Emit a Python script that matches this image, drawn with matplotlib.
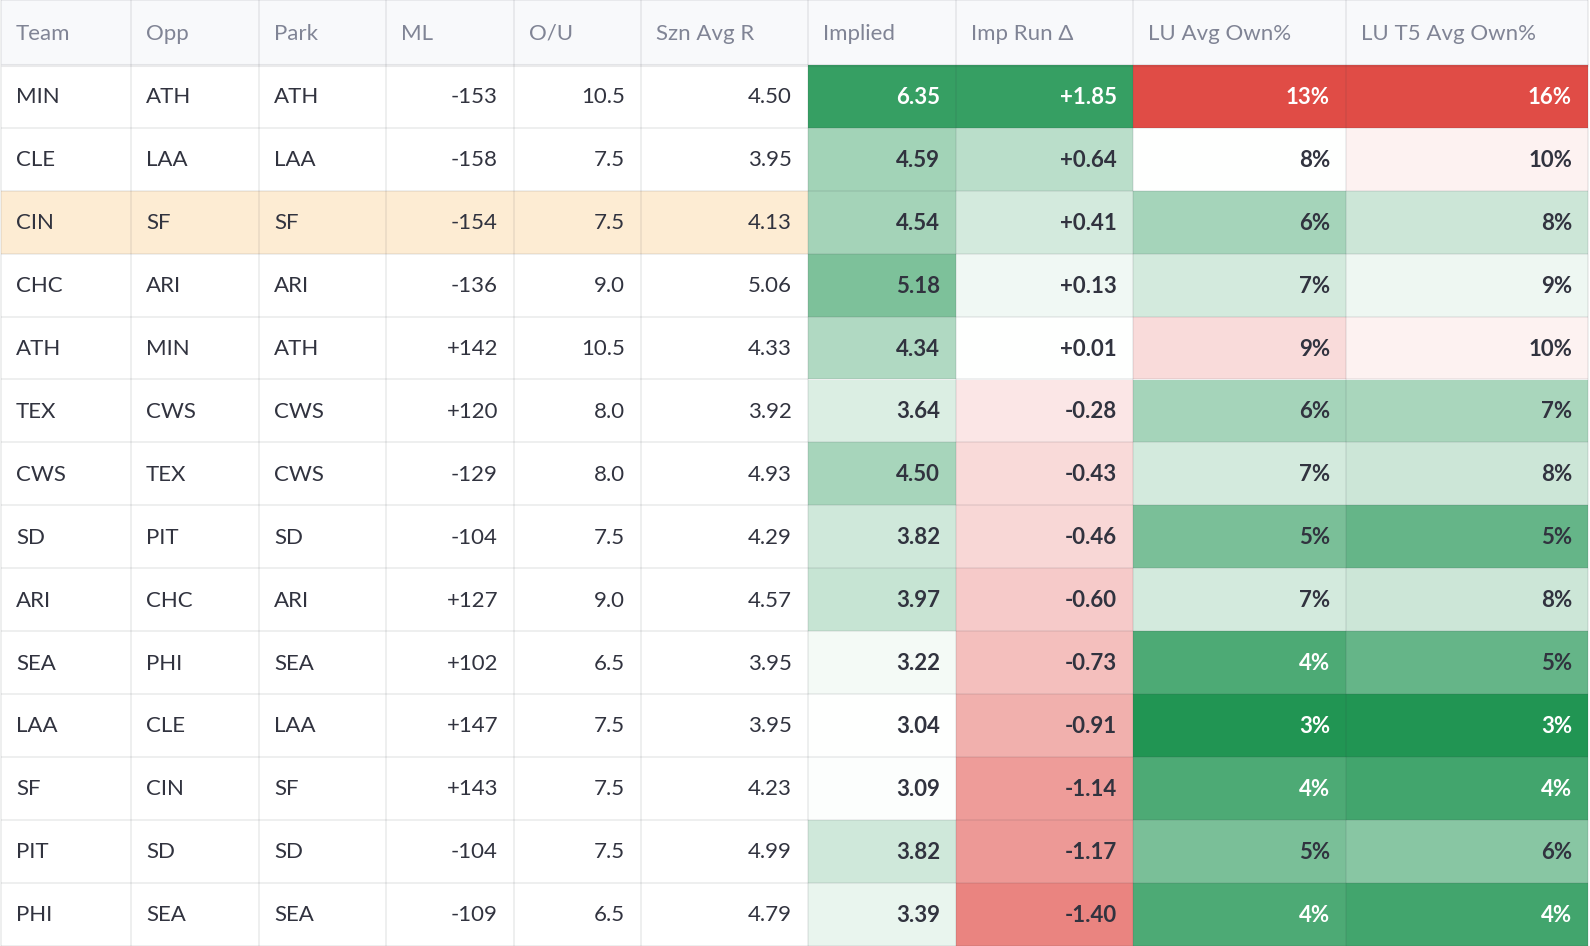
import matplotlib
matplotlib.use("Agg")
import matplotlib.pyplot as plt
import matplotlib.colors as mcolors
from matplotlib.patches import Rectangle

# ---------------- DATA ----------------
headers = ["Team", "Opp", "Park", "ML", "O/U", "Szn Avg R",
           "Implied", "Imp Run Δ", "LU Avg Own%", "LU T5 Avg Own%"]

teams = ["MIN", "CLE", "CIN", "CHC", "ATH", "TEX", "CWS",
         "SD", "ARI", "SEA", "LAA", "SF", "PIT", "PHI"]
opps = ["ATH", "LAA", "SF", "ARI", "MIN", "CWS", "TEX",
        "PIT", "CHC", "PHI", "CLE", "CIN", "SD", "SEA"]
parks = ["ATH", "LAA", "SF", "ARI", "ATH", "CWS", "CWS",
         "SD", "ARI", "SEA", "LAA", "SF", "SD", "SEA"]
ml = [-153, -158, -154, -136, 142, 120, -129, -104, 127, 102, 147, 143, -104, -109]
ou = [10.5, 7.5, 7.5, 9.0, 10.5, 8.0, 8.0, 7.5, 9.0, 6.5, 7.5, 7.5, 7.5, 6.5]
szn_avg_r = [4.50, 3.95, 4.13, 5.06, 4.33, 3.92, 4.93, 4.29, 4.57, 3.95, 3.95, 4.23, 4.99, 4.79]
implied = [6.35, 4.59, 4.54, 5.18, 4.34, 3.64, 4.50, 3.82, 3.97, 3.22, 3.04, 3.09, 3.82, 3.39]
imp_delta = [1.85, 0.64, 0.41, 0.13, 0.01, -0.28, -0.43, -0.46, -0.60, -0.73, -0.91, -1.14, -1.17, -1.40]
lu_own = [13, 8, 6, 7, 9, 6, 7, 5, 7, 4, 3, 4, 5, 4]
lu_t5_own = [16, 10, 8, 9, 10, 7, 8, 5, 8, 5, 3, 4, 6, 4]

highlight_team = "CIN"

# ---------------- STYLE ----------------
FONT = ["Lato", "DejaVu Sans"]
FS = 16
GREEN = (33 / 255, 149 / 255, 83 / 255)
RED = (224 / 255, 76 / 255, 70 / 255)
TEXT = "#31333f"
HEAD_TEXT = "#808495"
HEAD_BG = "#f8f9fb"
HL_BG = "#fdecd3"
GRID = (49 / 255, 51 / 255, 63 / 255, 0.1)

col_w = [130, 128, 127, 128, 127, 167, 148, 177, 213, 242]
head_h = 65
row_h = 62.9
x0 = 1
pad = 15

cmap = mcolors.LinearSegmentedColormap.from_list("rwg", [RED, "white", GREEN])


# value -> position on the red/white/green scale (0.5 = white)
def scale_implied(v):
    return 0.5 + 0.45 * (v - min(implied)) / (max(implied) - min(implied))


def scale_delta(v):
    m = max(abs(d) for d in imp_delta)
    return 0.5 + 0.45 * v / m


def scale_own(vals):
    lo, hi = min(vals), max(vals)
    mid = (lo + hi) / 2
    half = (hi - lo) / 2
    return lambda v: 0.5 + 0.5 * (mid - v) / half


columns = [
    (teams, str, "left", None),
    (opps, str, "left", None),
    (parks, str, "left", None),
    (ml, lambda v: f"{v:+d}", "right", None),
    (ou, lambda v: f"{v:.1f}", "right", None),
    (szn_avg_r, lambda v: f"{v:.2f}", "right", None),
    (implied, lambda v: f"{v:.2f}", "right", scale_implied),
    (imp_delta, lambda v: f"{v:+.2f}", "right", scale_delta),
    (lu_own, lambda v: f"{v}%", "right", scale_own(lu_own)),
    (lu_t5_own, lambda v: f"{v}%", "right", scale_own(lu_t5_own)),
]

# ---------------- FIGURE ----------------
fig = plt.figure(figsize=(15.9, 9.46), dpi=100)
ax = fig.add_axes([0, 0, 1, 1])
ax.set_xlim(0, 1590)
ax.set_ylim(946, 0)
ax.axis("off")

edges = [x0]
for w in col_w:
    edges.append(edges[-1] + w)
n_rows = len(teams)
bottom = head_h + n_rows * row_h

# header
ax.add_patch(Rectangle((x0, 0), edges[-1] - x0, head_h, color=HEAD_BG, lw=0))
for j, h in enumerate(headers):
    ax.text(edges[j] + pad, head_h / 2 + 1, h, ha="left", va="center",
            fontsize=FS, color=HEAD_TEXT, family=FONT)

# body
hl_row = teams.index(highlight_team)
for j, (vals, fmt, align, scaler) in enumerate(columns):
    for i, v in enumerate(vals):
        y = head_h + i * row_h
        txt_color = TEXT
        weight = "normal"
        if scaler is not None:
            s = scaler(v)
            ax.add_patch(Rectangle((edges[j], y), col_w[j], row_h,
                                   color=cmap(s), lw=0))
            weight = "bold"
            if abs(s - 0.5) * 2 > 0.75:
                txt_color = "white"
        elif i == hl_row:
            ax.add_patch(Rectangle((edges[j], y), col_w[j], row_h,
                                   color=HL_BG, lw=0))
        if align == "left":
            tx = edges[j] + pad
        else:
            tx = edges[j + 1] - pad - 1
        ax.text(tx, y + row_h / 2 + 1, fmt(v), ha=align, va="center",
                fontsize=FS, color=txt_color, weight=weight, family=FONT)

# grid lines
row_lines = [0] + [head_h + i * row_h for i in range(1, n_rows + 1)]
ax.hlines(row_lines, x0, edges[-1], colors=[GRID], lw=1.1)
ax.hlines([head_h], x0, edges[-1], colors=[GRID], lw=2.2)
ax.vlines(edges, 0, bottom, colors=[GRID], lw=1.1)

fig.savefig("out.png", dpi=100)
